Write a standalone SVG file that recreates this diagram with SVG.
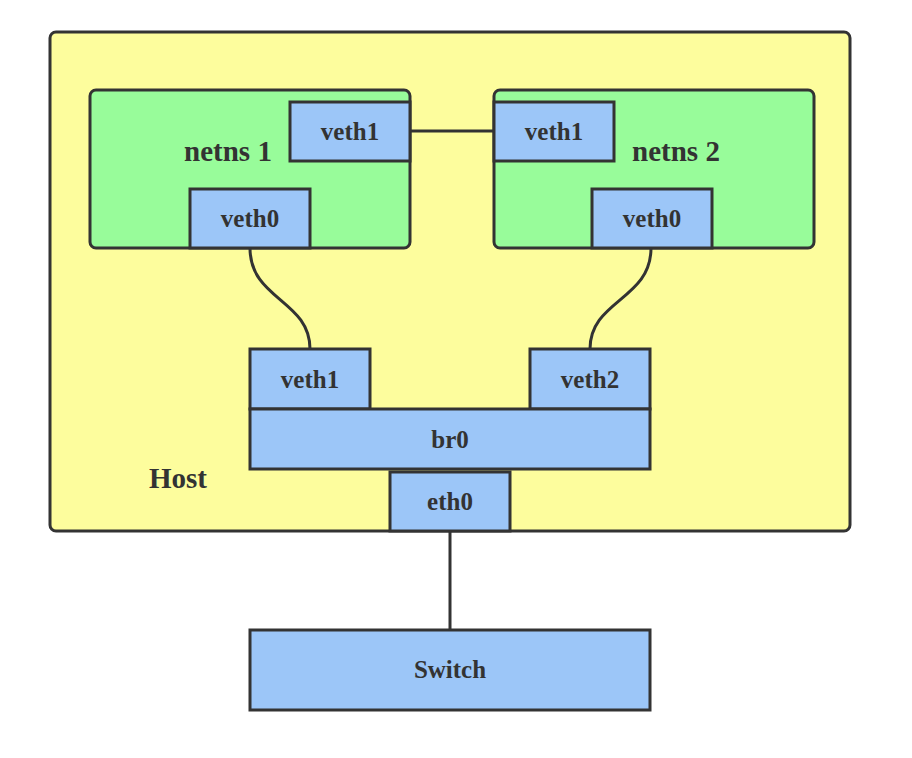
<svg xmlns="http://www.w3.org/2000/svg" width="912" height="758" viewBox="0 0 912 758">
<style>
.host{fill:#fdfd9d;stroke:#333;stroke-width:3}
.ns{fill:#98fc9a;stroke:#333;stroke-width:3}
.if{fill:#9cc6f8;stroke:#333;stroke-width:3}
.t{font-family:"Liberation Serif",serif;font-weight:bold;fill:#333;text-anchor:middle;dominant-baseline:central}
.s{font-size:25px}
.b{font-size:29px}
.c{fill:none;stroke:#333;stroke-width:3}
</style>
<rect width="912" height="758" fill="#fff"/>
<g id="host">
<rect class="host" x="50" y="32" width="800" height="499" rx="6"/>
<text class="t b" x="178" y="478">Host</text>
</g>
<g id="netns1">
<rect class="ns" x="90" y="90" width="320" height="158" rx="6"/>
<text class="t b" x="228" y="151">netns 1</text>
</g>
<g id="netns2">
<rect class="ns" x="494" y="90" width="320" height="158" rx="6"/>
<text class="t b" x="676" y="151">netns 2</text>
</g>
<g id="ns1-veth1">
<rect class="if" x="290" y="102" width="120" height="59"/>
<text class="t s" x="350" y="131">veth1</text>
</g>
<g id="ns1-veth0">
<rect class="if" x="190" y="189" width="120" height="59"/>
<text class="t s" x="250" y="218">veth0</text>
</g>
<g id="ns2-veth1">
<rect class="if" x="494" y="102" width="120" height="59"/>
<text class="t s" x="554" y="131">veth1</text>
</g>
<g id="ns2-veth0">
<rect class="if" x="592" y="189" width="120" height="59"/>
<text class="t s" x="652" y="218">veth0</text>
</g>
<g id="host-veth1">
<rect class="if" x="250" y="349" width="120" height="60"/>
<text class="t s" x="310" y="379">veth1</text>
</g>
<g id="host-veth2">
<rect class="if" x="530" y="349" width="120" height="60"/>
<text class="t s" x="590" y="379">veth2</text>
</g>
<g id="br0">
<rect class="if" x="250" y="409" width="400" height="60"/>
<text class="t s" x="450" y="439">br0</text>
</g>
<g id="eth0">
<rect class="if" x="390" y="472" width="120" height="59"/>
<text class="t s" x="450" y="501">eth0</text>
</g>
<g id="switch">
<rect class="if" x="250" y="630" width="400" height="80"/>
<text class="t s" x="450" y="669">Switch</text>
</g>
<g id="connectors">
<line class="c" x1="410" y1="131" x2="494" y2="131"/>
<path class="c" d="M250,248 C250,300 310,300 310,349"/>
<path class="c" d="M651,248 C651,300 590,300 590,349"/>
<line class="c" x1="450" y1="531" x2="450" y2="630"/>
</g>
</svg>
